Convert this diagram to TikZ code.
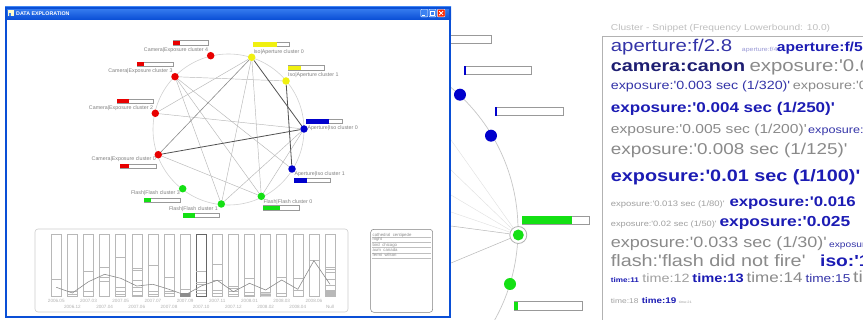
\documentclass[tikz,border=0pt]{standalone}
\usepackage{fontspec}
\setmainfont{Liberation Sans}
\newfontfamily\snip[FakeStretch=1.2,Ligatures=TeXOff]{Liberation Sans}
\newcommand\myfs[1]{\fontsize{#1}{#1}\selectfont}
\newcommand\gbar[6]{\draw[barframe] (#1,#2) rectangle (#3,#4); \fill[#6] (#1,#2) rectangle (#5,#4);}
\definecolor{nred}{HTML}{E80000}
\definecolor{nyel}{HTML}{F0F010}
\definecolor{nblue}{HTML}{0000CC}
\definecolor{ngreen}{HTML}{14E014}
\definecolor{xpblue}{HTML}{0A4FD6}
\definecolor{xplight}{HTML}{3C82F2}
\definecolor{blueR}{HTML}{3434A8}
\definecolor{blueB}{HTML}{1C1CB4}
\definecolor{navy}{HTML}{1E1E72}
\definecolor{greyT}{HTML}{8A8A8A}
\definecolor{greyS}{HTML}{A0A0A0}
\begin{document}
\begin{tikzpicture}[x=1pt,y=-1pt,
  gnode/.style={circle,fill=#1,inner sep=0pt,minimum size=7.5pt},
  mnode/.style={circle,fill=#1,inner sep=0pt,minimum size=12pt},
  ledge/.style={draw=black!28,line width=0.45pt},
  dedge/.style={draw=black!68,line width=0.8pt},
  glabel/.style={inner sep=0pt,font=\myfs{5.3},text=black!50},
  barframe/.style={draw=black!40,fill=white,line width=0.4pt},
  col/.style={draw=black!28,line width=0.45pt},
  axl/.style={inner sep=0pt,font=\myfs{4.6},text=black!30},
  snip/.style={anchor=base west,inner sep=0pt},
]
\useasboundingbox (0,0) rectangle (863,320);
\fill[white] (0,0) rectangle (863,320);

% ---------------- middle panel (zoomed graph) ----------------
\begin{scope}
\clip (451,0) rectangle (600,320);
\draw[black!22,line width=0.7pt] (333,230) circle[radius=185];
\node[circle,draw=black!30,fill=white,line width=0.8pt,minimum size=17pt,inner sep=0pt] (hlring) at (518.3,235) {};
\coordinate (fa) at (451,140);
\coordinate (fb) at (451,170);
\coordinate (fc) at (451,195);
\coordinate (fd) at (451,212);
\coordinate (fe) at (451,226);
\coordinate (ff) at (451,263);
\foreach \c in {fa,fb,fc,fd} \draw[black!12,line width=0.4pt] (hlring) -- (\c);
\draw[black!28,line width=0.5pt] (hlring) -- (fe);
\draw[black!28,line width=0.5pt] (hlring) -- (ff);
\node[mnode=ngreen,minimum size=11pt] (hl) at (518.3,235) {};
\node[mnode=nblue] (mb1) at (460,94.7) {};
\node[mnode=nblue] (mb2) at (491,135.7) {};
\node[mnode=ngreen] (mg2) at (510,284) {};
\gbar{440}{35.7}{490.7}{43.7}{440}{white}
\gbar{464}{66.3}{531.3}{74.7}{466}{nblue}
\gbar{495}{107}{562.7}{115.7}{497.3}{nblue}
\gbar{521.7}{216}{589.3}{224.3}{571.7}{ngreen}
\gbar{514}{301.7}{582}{310}{518.3}{ngreen}
\end{scope}

% ---------------- window (left panel) ----------------
\fill[white] (5,7) rectangle (451,318);
\shade[top color=xplight,bottom color=xpblue] (5,7) rectangle (451,19.5);
\draw[xpblue,line width=1.6pt] (5.8,7.8) rectangle (450.2,317.2);
\fill[white!80!yellow] (8,10) rectangle (14,16.5);
\fill[xplight] (9,13) rectangle (11,16);
\node[inner sep=0pt,anchor=west,font=\bfseries\myfs{5.3},text=white] (wtitle) at (16,13.3) {DATA EXPLORATION};
\draw[white,fill=xplight,line width=0.4pt,rounded corners=0.8pt] (420.7,9.3) rectangle (427.7,16.9);
\draw[white,line width=0.8pt] (422.2,15.2) -- (425,15.2);
\draw[white,fill=xplight,line width=0.4pt,rounded corners=0.8pt] (429,9.3) rectangle (436,16.9);
\draw[white,line width=0.6pt] (430.6,11) rectangle (434.4,15.3);
\draw[white,fill=red!70!orange,line width=0.4pt,rounded corners=0.8pt] (437.3,9.3) rectangle (445,16.9);
\draw[white,line width=0.8pt] (439.2,11.2) -- (443.1,15) (439.2,15) -- (443.1,11.2);

% graph
\draw[black!18,line width=0.6pt] (228.5,129.5) circle[radius=75.5];
\node[gnode=nred] (ce4) at (210.7,55.7) {};
\node[gnode=nyel] (y0) at (251.7,57.3) {};
\node[gnode=nred] (ce3) at (175,76.7) {};
\node[gnode=nyel] (y1) at (286,81) {};
\node[gnode=nred] (ce2) at (155.3,113.3) {};
\node[gnode=nblue] (b0) at (304,129) {};
\node[gnode=nred] (ce0) at (158.3,154.7) {};
\node[gnode=nblue] (b1) at (292,169) {};
\node[gnode=ngreen] (ff3) at (182.7,188.7) {};
\node[gnode=ngreen] (ff1) at (221.3,204) {};
\node[gnode=ngreen] (ff0) at (261.3,196.3) {};

\draw[ledge] (ce3) -- (y1);
\draw[ledge] (ce3) -- (ff1);
\draw[ledge] (ce3) -- (b1);
\draw[ledge] (ce3) -- (ff0);
\draw[ledge] (ce2) -- (y0);
\draw[ledge] (ce2) -- (b0);
\draw[ledge] (ce0) -- (ff0);
\draw[ledge] (y0) -- (ff0);
\draw[ledge] (ff1) -- (b0);
\draw[ledge] (ff0) -- (b0);
\draw[ledge] (ff1) -- (y0);
\draw[draw=black!45,line width=0.6pt] (ce0) -- (y0);
\draw[dedge] (ce0) -- (b0);
\draw[dedge] (y0) -- (b0);
\draw[dedge] (y1) -- (b1);

\gbar{172.7}{40.7}{208.3}{45}{180}{nred}
\gbar{136.7}{62}{172.7}{66.3}{144}{nred}
\gbar{117.3}{99}{153.3}{103.3}{129}{nred}
\gbar{120}{164.3}{156}{168.3}{129.3}{nred}
\gbar{144.3}{198}{180}{202.3}{151}{ngreen}
\gbar{182.7}{213.3}{218.7}{217.7}{195}{ngreen}
\gbar{263.3}{205.7}{299.3}{210.3}{280}{ngreen}
\gbar{253.3}{42.3}{289.3}{46.7}{277.3}{nyel}
\gbar{287.7}{65.7}{323.7}{70}{300.7}{nyel}
\gbar{306}{119.3}{342}{123.7}{329.3}{nblue}
\gbar{294.3}{178.3}{330.3}{182.7}{306.7}{nblue}

\node[glabel,anchor=east] (lce4) at (208.3,50) {Camera|Exposure cluster 4};
\node[glabel,anchor=east] (lce3) at (172.7,71) {Camera|Exposure cluster 3};
\node[glabel,anchor=east] (lce2) at (153.3,108) {Camera|Exposure cluster 2};
\node[glabel,anchor=east] (lce0) at (156,159.3) {Camera|Exposure cluster 0};
\node[glabel,anchor=east] (lff3) at (180,193.3) {Flash|Flash cluster 3};
\node[glabel,anchor=east] (lff1) at (218,209.3) {Flash|Flash cluster 1};
\node[glabel,anchor=west] (lff0) at (263.3,202) {Flash|Flash cluster 0};
\node[glabel,anchor=west] (ly0) at (253.3,52.3) {Iso|Aperture cluster 0};
\node[glabel,anchor=west] (ly1) at (288,75) {Iso|Aperture cluster 1};
\node[glabel,anchor=west] (lb0) at (307.3,128.3) {Aperture|Iso cluster 0};
\node[glabel,anchor=west] (lb1) at (294.3,174) {Aperture|Iso cluster 1};

% timeline chart
\draw[black!20,line width=0.6pt,rounded corners=3pt] (35,229) rectangle (348,312);
\foreach \i in {0,...,17} {
  \draw[col] ({51.3+16.1*\i},234) rectangle ({61.3+16.1*\i},296.7);
}
\fill[black!45] ({51.3+16.1*8},293.3) rectangle ({61.3+16.1*8},296.7);
\fill[black!28] ({51.3+16.1*17},290) rectangle ({61.3+16.1*17},296.7);
\fill[black!15] ({51.3+16.1*13},292.7) rectangle ({61.3+16.1*13},296.7);
\draw[black!60,line width=0.9pt] ({51.3+16.1*9},234) rectangle ({61.3+16.1*9},296.7);
\foreach \i/\ys in {0/{279},1/{291.7,294},2/{271.3,291},3/{267.3,277.3,281},
  4/{257.3,287,291,294.3},5/{268.3,270,280,287,291,295},6/{265,291,294.3},
  7/{277.3,291,293.7},8/{289.3},9/{271.7,282.3,284.3,290,293.3},
  10/{264.3,280.3,290,293.3},11/{286.7,288.3,291,294.3},12/{278,292.7,295},
  13/{292.7,294,295.3},14/{277,293.3},15/{278,290},16/{260.7},
  17/{267,269.3,272.3,279.3,285,291.5,293,294.5}} {
  \foreach \y in \ys {
    \draw[col] ({51.3+16.1*\i},\y) -- ({61.3+16.1*\i},\y);
  }
}
\foreach \i/\y in {0/287.3,1/293,2/281.7,3/274.3,4/278.3,5/286,6/284.3,7/289.3,8/295,
  9/286,10/280.3,11/291.7,12/283.3,13/290,14/280,15/289.3,16/260.7,17/284.3} {
  \coordinate (p\i) at ({56.3+16.1*\i},\y);
}
\draw[black!45,line width=0.6pt] (p0) -- (p1) -- (p2) -- (p3) -- (p4) -- (p5) -- (p6) -- (p7) -- (p8)
  -- (p9) -- (p10) -- (p11) -- (p12) -- (p13) -- (p14) -- (p15) -- (p16) -- (p17);
\foreach \i/\t in {0/2006.05,2/2007.03,4/2007.05,6/2007.07,8/2007.09,10/2007.11,12/2008.01,14/2008.03,16/2008.06} {
  \node[axl] (ax\i) at ({56.3+16.1*\i},300.5) {\t};
}
\foreach \i/\t in {1/2006.12,3/2007.04,5/2007.06,7/2007.08,9/2007.10,11/2007.12,13/2008.02,15/2008.04,17/Null} {
  \node[axl] (ax\i) at ({56.3+16.1*\i},306.5) {\t};
}

% tag list
\draw[black!50,line width=0.5pt,rounded corners=3pt] (370.7,229.3) rectangle (432.7,312.3);
\foreach \k/\y/\t in {1/236.3/{cathedral\ \ centipede},2/241/{night},3/246.2/{bird\ \ chicago},4/251.5/{aum\ \ canada},5/256.9/{fermi\ \ wilson}} {
  \node[inner sep=0pt,anchor=base west,font=\myfs{4.3},text=black!45] (tag\k) at (372.5,\y) {\t};
  \draw[black!25,line width=0.35pt] (372,\y+1.3) -- (430.7,\y+1.3);
}

% ---------------- right panel (snippet) ----------------
\begin{scope}
\clip (600,0) rectangle (863,320);
\node[snip,font=\snip\myfs{8.5},text=black!25] (stitle) at (610.7,30.7) {Cluster - Snippet (Frequency Lowerbound: 10.0)};
\draw[black!30,line width=0.8pt] (602.3,320) -- (602.3,36.7) -- (870,36.7);
% line 1
\node[snip,font=\snip\myfs{17},text=blueR] (t1a) at (610.7,51.5) {aperture:f/2.8};
\node[snip,font=\snip\myfs{5.8},text=black!40!blue!40] (t1b) at (741.7,51.5) {aperture:f/4};
\node[snip,font=\snip\bfseries\myfs{13},text=blueB] (t1c) at (776.7,51.5) {aperture:f/5.6};
% line 2
\node[snip,font=\snip\bfseries\myfs{16.5},text=navy] (t2a) at (610.7,72) {camera:canon};
\node[snip,font=\snip\myfs{17},text=greyT] (t2b) at (749.3,72) {exposure:'0.003 sec};
% line 3
\node[snip,font=\snip\myfs{11.9},text=blueR] (t3a) at (610.7,89.5) {exposure:'0.003 sec (1/320)'};
\node[snip,font=\snip\myfs{12},text=greyT] (t3b) at (792.7,89.5) {exposure:'0.004};
% line 4
\node[snip,font=\snip\bfseries\myfs{14.2},text=blueB] (t4) at (610.7,112.5) {exposure:'0.004 sec (1/250)'};
% line 5
\node[snip,font=\snip\myfs{13},text=greyT] (t5a) at (610.7,134) {exposure:'0.005 sec (1/200)'};
\node[snip,font=\snip\myfs{10.5},text=blueR] (t5b) at (808,134) {exposure:'0.006};
% line 6
\node[snip,font=\snip\myfs{15.7},text=greyT] (t6) at (610.7,155) {exposure:'0.008 sec (1/125)'};
% line 7
\node[snip,font=\snip\bfseries\myfs{16.5},text=blueB] (t7) at (610.7,181.5) {exposure:'0.01 sec (1/100)'};
% line 8
\node[snip,font=\snip\myfs{7.9},text=greyS] (t8a) at (610.7,207) {exposure:'0.013 sec (1/80)'};
\node[snip,font=\snip\bfseries\myfs{14},text=blueB] (t8b) at (729.3,207) {exposure:'0.016};
% line 9
\node[snip,font=\snip\myfs{7.7},text=greyS] (t9a) at (610.7,227) {exposure:'0.02 sec (1/50)'};
\node[snip,font=\snip\bfseries\myfs{14.5},text=blueB] (t9b) at (719.3,227) {exposure:'0.025};
% line 10
\node[snip,font=\snip\myfs{15},text=greyT] (t10a) at (610.7,248) {exposure:'0.033 sec (1/30)'};
\node[snip,font=\snip\myfs{8.5},text=blueR] (t10b) at (829,248) {exposure};
% line 11
\node[snip,font=\snip\myfs{16.5},text=greyT] (t11a) at (610.7,267) {flash:'flash did not fire'};
\node[snip,font=\snip\bfseries\myfs{16},text=blueB] (t11b) at (820,267) {iso:'100'};
% line 12
\node[snip,font=\snip\bfseries\myfs{6.8},text=blueB] (t12a) at (610.7,283) {time:11};
\node[snip,font=\snip\myfs{12},text=greyS] (t12b) at (642.1,283) {time:12};
\node[snip,font=\snip\bfseries\myfs{12.2},text=blueB] (t12c) at (692.2,283) {time:13};
\node[snip,font=\snip\myfs{14.2},text=greyT] (t12d) at (746.4,283) {time:14};
\node[snip,font=\snip\myfs{11.4},text=blueR] (t12e) at (805.3,283) {time:15};
\node[snip,font=\snip\myfs{16},text=greyT] (t12f) at (853,283) {time:16};
% line 13
\node[snip,font=\snip\myfs{7},text=greyS] (t13a) at (610.7,304) {time:18};
\node[snip,font=\snip\bfseries\myfs{8.2},text=blueB] (t13b) at (641.7,304) {time:19};
\node[snip,font=\snip\myfs{3.3},text=greyS] (t13c) at (678.7,304) {time:21};
\end{scope}
\end{tikzpicture}
\end{document}
